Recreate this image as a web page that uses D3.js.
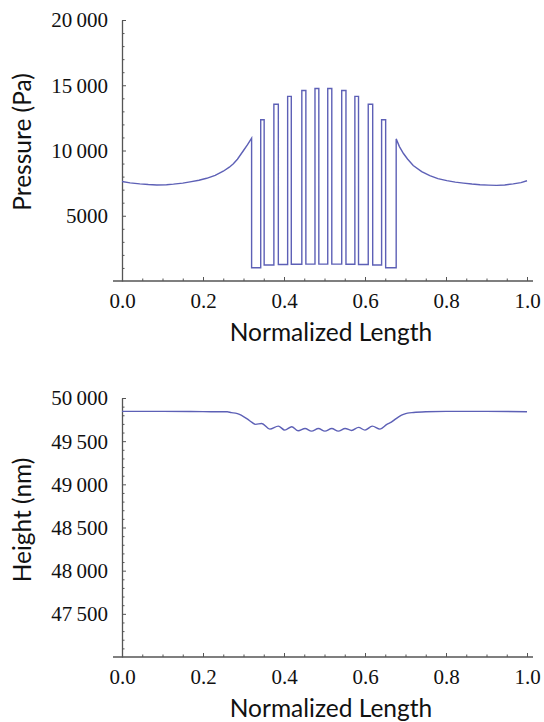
<!DOCTYPE html>
<html>
<head>
<meta charset="utf-8">
<script src="https://cdn.jsdelivr.net/npm/d3@7"></script>
<style>
  body {margin: 0; background: #fff;}
  .tick text {font-family: "Liberation Serif", serif; font-size: 21px; fill: #111;}
  .title {font-family: Lato, "Open Sans", sans-serif; font-size: 24.5px; fill: #111;}
</style>
</head>
<body>
<div class="container"></div>
<script>
// ---- top panel: pressure along the length ----
let leftX = [0, 0.02, 0.044, 0.065, 0.086, 0.11, 0.127, 0.15, 0.168, 0.19, 0.209, 0.23, 0.25, 0.265, 0.275, 0.285, 0.30, 0.31, 0.32];
let leftP = [7620, 7520, 7440, 7390, 7360, 7380, 7420, 7500, 7600, 7720, 7870, 8100, 8410, 8720, 8980, 9330, 10000, 10450, 10950];

let pulseRise = [0.3425, 0.375, 0.409, 0.444, 0.4765, 0.508, 0.5425, 0.575, 0.608, 0.641];
let pulseFall = [0.351, 0.386, 0.418, 0.454, 0.486, 0.518, 0.553, 0.584, 0.619, 0.651];
let pulseTop = [12360, 13540, 14150, 14600, 14750, 14750, 14600, 14150, 13540, 12360];
let gapLow = [1020, 1230, 1260, 1280, 1290, 1290, 1290, 1280, 1260, 1230, 1020];

let rightX = [0.677, 0.685, 0.695, 0.705, 0.719, 0.74, 0.76, 0.78, 0.802, 0.823, 0.843, 0.864, 0.884, 0.905, 0.925, 0.945, 0.966, 0.985, 1.0];
let rightP = [10890, 10300, 9770, 9350, 8850, 8380, 8080, 7850, 7690, 7580, 7500, 7430, 7380, 7350, 7330, 7360, 7440, 7540, 7680];

// ---- bottom panel: film height ----
let heightX = [0, 0.1, 0.2, 0.26, 0.27, 0.28, 0.29, 0.30, 0.31, 0.32, 0.33, 0.345, 0.365, 0.386, 0.402, 0.419, 0.435, 0.452, 0.468, 0.485, 0.501, 0.518, 0.534, 0.551, 0.567, 0.584, 0.600, 0.618, 0.637, 0.654, 0.665, 0.675, 0.686, 0.695, 0.705, 0.72, 0.75, 0.8, 0.9, 1.0];
let heightNm = [49845, 49845, 49842, 49840, 49830, 49825, 49810, 49785, 49755, 49720, 49695, 49705, 49640, 49674, 49628, 49667, 49620, 49647, 49616, 49647, 49616, 49647, 49616, 49647, 49624, 49660, 49628, 49674, 49640, 49695, 49720, 49755, 49790, 49810, 49825, 49832, 49840, 49845, 49845, 49840];

let xTicks = [0, 0.2, 0.4, 0.6, 0.8, 1.0];
let xMinor = d3.range(0.05, 1, 0.05).filter(v => Math.abs(v * 5 - Math.round(v * 5)) > 1e-6);
let pressureTicks = [5000, 10000, 15000, 20000];
let pressureMinor = d3.range(1000, 20000, 1000).filter(v => v % 5000 != 0);
let heightTicks = [47500, 48000, 48500, 49000, 49500, 50000];
let heightMinor = d3.range(47100, 50000, 100).filter(v => v % 500 != 0);

let lineColor = "#5d60b6";

let svg = d3.select(".container").append("svg")
    .attr("width", 544)
    .attr("height", 722);

let fmtY = d => d >= 10000 ? d3.format(",")(d).replace(",", "\u2009") : d3.format("d")(d);

let panel = (opt) => {
  let g = svg.append("g");
  let x = d3.scaleLinear().domain([0, 1]).range([122, 527]);
  let y = d3.scaleLinear().domain(opt.yDomain).range(opt.yRange);
  let base = opt.yRange[0];

  // x axis line runs a bit past both ends
  g.append("line")
    .attr("x1", x(0) - 9).attr("x2", x(1) + 6)
    .attr("y1", base).attr("y2", base)
    .style("stroke", "#555").style("stroke-width", 1.3);

  let xa = g.append("g")
    .attr("transform", "translate(0," + base + ")")
    .call(d3.axisBottom(x).tickValues(xTicks).tickSizeInner(-4).tickSizeOuter(0).tickFormat(d3.format(".1f")));
  xa.select(".domain").remove();
  xa.selectAll("text").attr("y", 27).attr("dy", 0);

  let xm = g.append("g")
    .attr("transform", "translate(0," + base + ")")
    .call(d3.axisBottom(x).tickValues(xMinor).tickSizeInner(-2.5).tickSizeOuter(0).tickFormat(""));
  xm.select(".domain").remove();

  let ya = g.append("g")
    .attr("transform", "translate(" + x(0) + ",0)")
    .call(d3.axisLeft(y).tickValues(opt.ticks).tickSizeInner(-4).tickSizeOuter(0).tickFormat(fmtY));
  ya.selectAll("text").attr("x", -14).attr("dy", "0.33em");
  ya.select(".domain").style("stroke", "#555").style("stroke-width", 1.3);

  let ym = g.append("g")
    .attr("transform", "translate(" + x(0) + ",0)")
    .call(d3.axisLeft(y).tickValues(opt.minor).tickSizeInner(-2.5).tickSizeOuter(0).tickFormat(""));
  ym.select(".domain").remove();

  g.selectAll(".tick line").style("stroke", "#555");

  g.append("path")
    .datum(opt.points)
    .attr("d", d3.line().x(d => x(d[0])).y(d => y(d[1])).curve(opt.curve))
    .style("fill", "none")
    .style("stroke", lineColor)
    .style("stroke-width", 1.4);

  g.append("text")
    .text("Normalized Length")
    .attr("class", "title")
    .attr("text-anchor", "middle")
    .attr("x", 331)
    .attr("y", base + 60);

  g.append("text")
    .text(opt.yTitle)
    .attr("class", "title")
    .attr("text-anchor", "middle")
    .attr("transform", "translate(31," + opt.yTitleMid + ") rotate(-90)");
}

// assemble the pressure trace: smooth ends, square pulses in the middle
let pressurePts = leftX.map((v, i) => [v, leftP[i]]);
pressurePts.push([leftX[leftX.length - 1], gapLow[0]]);
pulseRise.forEach((r, i) => {
  pressurePts.push([r, gapLow[i]], [r, pulseTop[i]], [pulseFall[i], pulseTop[i]], [pulseFall[i], gapLow[i + 1]]);
});
pressurePts.push([rightX[0], gapLow[gapLow.length - 1]]);
rightX.forEach((v, i) => pressurePts.push([v, rightP[i]]));

panel({
  yDomain: [0, 20000], yRange: [281, 20],
  ticks: pressureTicks, minor: pressureMinor,
  points: pressurePts, curve: d3.curveLinear,
  yTitle: "Pressure (Pa)", yTitleMid: 142
});

panel({
  yDomain: [47000, 50000], yRange: [657, 398],
  ticks: heightTicks, minor: heightMinor,
  points: heightX.map((v, i) => [v, heightNm[i]]), curve: d3.curveMonotoneX,
  yTitle: "Height (nm)", yTitleMid: 520
});
</script>
</body>
</html>
